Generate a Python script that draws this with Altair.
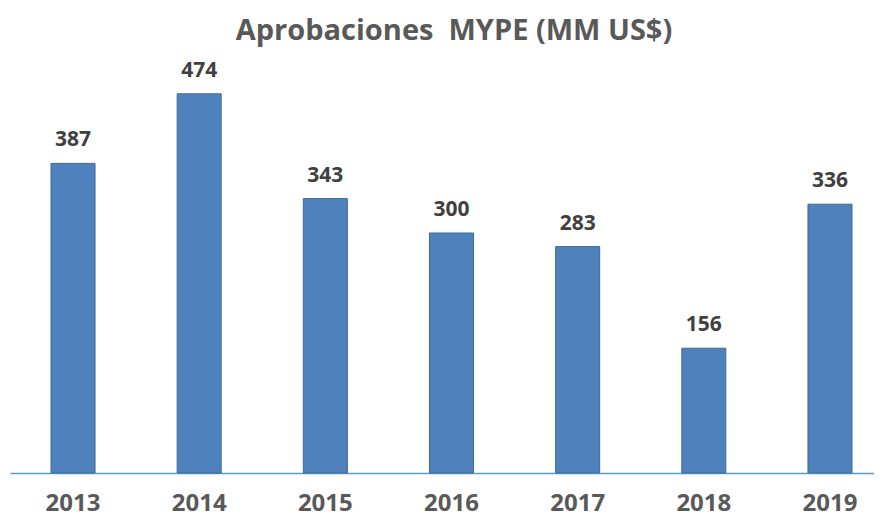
import altair as alt
import pandas as pd

years = ["2013", "2014", "2015", "2016", "2017", "2018", "2019"]
values = [387, 474, 343, 300, 283, 156, 336]
title_text = ["Aprobaciones\u00a0 MYPE (MM US$)"]

df = pd.DataFrame({"year": years, "value": values})
tdf = pd.DataFrame({"t": title_text})

FONT = "Open Sans"

x = alt.X(
    "year:N",
    sort=years,
    scale=alt.Scale(range=[0, 883], paddingInner=0.651, paddingOuter=0.325),
    axis=alt.Axis(
        title=None, ticks=False, labelAngle=0, labelFont=FONT, labelFontSize=24,
        labelFontWeight="bold", labelColor="#595959", labelPadding=18,
        domainColor="#5b9bc8", domainWidth=1.5,
    ),
)
y = alt.Y("value:Q", scale=alt.Scale(domain=[0, 500], nice=False), axis=None)

bars = alt.Chart(df).mark_bar(
    color="#4f81bd", stroke="#3c6c99", strokeWidth=1
).encode(x=x, y=y)

labels = alt.Chart(df).mark_text(
    font=FONT, fontSize=21, fontWeight="bold", color="#404040",
    baseline="alphabetic", dy=-17,
).encode(x=x, y=y, text="value:Q")

title = alt.Chart(tdf).mark_text(
    font=FONT, fontSize=29, fontWeight="bold", color="#595959",
    baseline="alphabetic", align="center",
).encode(x=alt.value(444), y=alt.value(-33), text="t:N")

chart = (bars + labels + title).properties(
    width=864, height=400,
    autosize=alt.AutoSizeParams(type="none"),
    padding={"left": 2, "right": 0, "top": 65, "bottom": 43},
).configure_view(stroke=None)

chart.save("out.html", embed_options={"renderer": "svg", "actions": False})
